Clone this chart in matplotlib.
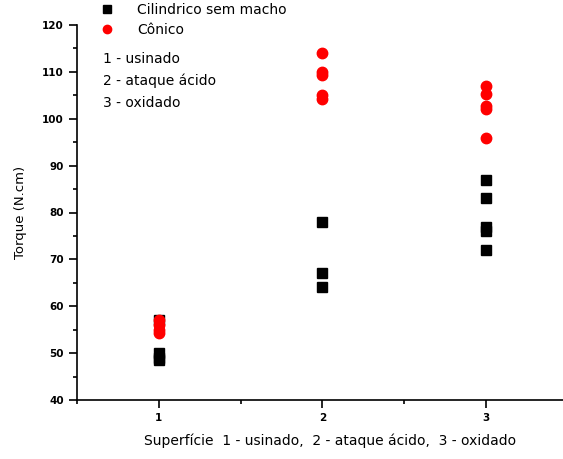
import matplotlib
matplotlib.use("Agg")
import matplotlib.pyplot as plt
from matplotlib.lines import Line2D
from matplotlib.ticker import MultipleLocator

# Data
cil_x = [1, 1, 1, 1, 2, 2, 2, 3, 3, 3, 3, 3]
cil_y = [57, 50, 49, 48.5, 78, 67, 64.2, 87, 83, 77, 76, 72]
con_x = [1, 1, 1, 1, 2, 2, 2, 2, 2, 3, 3, 3, 3, 3]
con_y = [57, 56, 55, 54.3, 114, 110, 109.3, 105, 104.3, 107, 105.3, 102.8, 102, 96]
series_labels = ["Cilindrico sem macho", "Cônico"]
notes = ["1 - usinado", "2 - ataque ácido", "3 - oxidado"]
xticks = [1, 2, 3]
xlabel = "Superfície  1 - usinado,  2 - ataque ácido,  3 - oxidado"
ylabel = "Torque (N.cm)"

plt.rcParams['font.family'] = ['DejaVu Sans']
fig = plt.figure(figsize=(5.63, 4.59), dpi=100)
W, H = 563, 459
ax = fig.add_axes([77 / W, (H - 400) / H, (W - 77) / W, 375 / H])

ax.plot(cil_x, cil_y, 's', color='black', ms=7, mec='black', zorder=2)
ax.plot(con_x, con_y, 'o', color='red', ms=7.5, mec='red', zorder=3)

ax.set_xlim(0.5, 0.5 + (W - 77) / 163.5)
ax.set_ylim(40, 120)
ax.set_xticks(xticks)
ax.xaxis.set_minor_locator(MultipleLocator(0.5))
ax.yaxis.set_major_locator(MultipleLocator(10))
ax.yaxis.set_minor_locator(MultipleLocator(5))
ax.tick_params(which='major', length=6, width=1.2, labelsize=7.5, direction='out')
ax.tick_params(which='minor', length=3, width=1.2, direction='out')
for lab in ax.get_xticklabels() + ax.get_yticklabels():
    lab.set_fontweight('bold')
ax.spines['top'].set_visible(False)
ax.spines['right'].set_visible(False)
ax.spines['left'].set_linewidth(1.2)
ax.spines['bottom'].set_linewidth(1.2)

ax.set_ylabel(ylabel, fontsize=9.5)
ax.yaxis.set_label_coords((27 - 77) / (W - 77), 0.5)
ax.set_xlabel(xlabel, fontsize=10)
ax.xaxis.set_label_coords((330 - 77) / (W - 77), -33 / 375)

# legend
handles = [Line2D([], [], ls='none', marker='s', color='black', ms=6),
           Line2D([], [], ls='none', marker='o', color='red', ms=6)]
fig.legend(handles, series_labels, loc='upper left', bbox_to_anchor=(93 / W, 1 - 3 / H),
           frameon=False, fontsize=10, handletextpad=1.2, labelspacing=0.45,
           borderpad=0, borderaxespad=0)
for i, t in enumerate(notes):
    fig.text(103 / W, 1 - (59 + 22 * i) / H, t, fontsize=10, va='center', ha='left')

fig.savefig("out.png", dpi=100)
